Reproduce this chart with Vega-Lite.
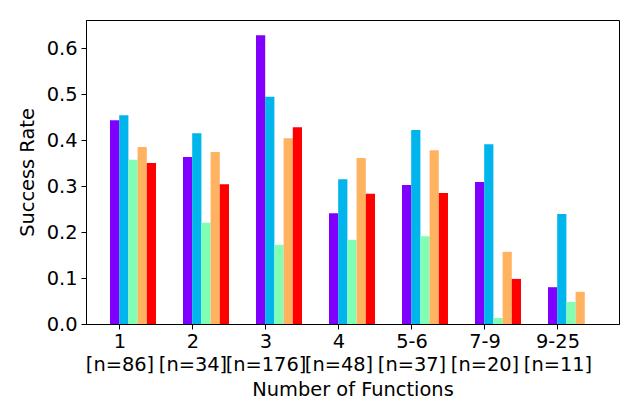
{
  "$schema": "https://vega.github.io/schema/vega-lite/v6.json",
  "autosize": "none",
  "width": 533,
  "height": 304,
  "padding": {"left": 86, "top": 20, "right": 21, "bottom": 96},
  "background": "white",
  "data": {
    "values": [
      {"functions": "1 [n=86]", "series": "S1", "rate": 0.443},
      {"functions": "1 [n=86]", "series": "S2", "rate": 0.454},
      {"functions": "1 [n=86]", "series": "S3", "rate": 0.357},
      {"functions": "1 [n=86]", "series": "S4", "rate": 0.385},
      {"functions": "1 [n=86]", "series": "S5", "rate": 0.350},
      {"functions": "2 [n=34]", "series": "S1", "rate": 0.363},
      {"functions": "2 [n=34]", "series": "S2", "rate": 0.415},
      {"functions": "2 [n=34]", "series": "S3", "rate": 0.220},
      {"functions": "2 [n=34]", "series": "S4", "rate": 0.374},
      {"functions": "2 [n=34]", "series": "S5", "rate": 0.304},
      {"functions": "3 [n=176]", "series": "S1", "rate": 0.628},
      {"functions": "3 [n=176]", "series": "S2", "rate": 0.494},
      {"functions": "3 [n=176]", "series": "S3", "rate": 0.172},
      {"functions": "3 [n=176]", "series": "S4", "rate": 0.404},
      {"functions": "3 [n=176]", "series": "S5", "rate": 0.428},
      {"functions": "4 [n=48]", "series": "S1", "rate": 0.241},
      {"functions": "4 [n=48]", "series": "S2", "rate": 0.315},
      {"functions": "4 [n=48]", "series": "S3", "rate": 0.183},
      {"functions": "4 [n=48]", "series": "S4", "rate": 0.361},
      {"functions": "4 [n=48]", "series": "S5", "rate": 0.283},
      {"functions": "5-6 [n=37]", "series": "S1", "rate": 0.302},
      {"functions": "5-6 [n=37]", "series": "S2", "rate": 0.422},
      {"functions": "5-6 [n=37]", "series": "S3", "rate": 0.191},
      {"functions": "5-6 [n=37]", "series": "S4", "rate": 0.378},
      {"functions": "5-6 [n=37]", "series": "S5", "rate": 0.285},
      {"functions": "7-9 [n=20]", "series": "S1", "rate": 0.309},
      {"functions": "7-9 [n=20]", "series": "S2", "rate": 0.391},
      {"functions": "7-9 [n=20]", "series": "S3", "rate": 0.013},
      {"functions": "7-9 [n=20]", "series": "S4", "rate": 0.157},
      {"functions": "7-9 [n=20]", "series": "S5", "rate": 0.098},
      {"functions": "9-25 [n=11]", "series": "S1", "rate": 0.080},
      {"functions": "9-25 [n=11]", "series": "S2", "rate": 0.239},
      {"functions": "9-25 [n=11]", "series": "S3", "rate": 0.048},
      {"functions": "9-25 [n=11]", "series": "S4", "rate": 0.070},
      {"functions": "9-25 [n=11]", "series": "S5", "rate": 0.0}
    ]
  },
  "mark": "bar",
  "encoding": {
    "x": {
      "field": "functions",
      "type": "nominal",
      "sort": null,
      "title": "Number of Functions",
      "scale": {"paddingInner": 0.0685, "paddingOuter": 0.185, "align": 0},
      "axis": {
        "labelAngle": 0,
        "labelExpr": "split(datum.value, ' ')",
        "labelLineHeight": 23,
        "labelPadding": 3,
        "titlePadding": 7
      }
    },
    "xOffset": {
      "field": "series",
      "type": "nominal",
      "scale": {"range": [24, 70], "paddingInner": 0, "paddingOuter": 0}
    },
    "y": {
      "field": "rate",
      "type": "quantitative",
      "title": "Success Rate",
      "scale": {"domain": [0, 0.661], "nice": false},
      "axis": {
        "values": [0, 0.1, 0.2, 0.3, 0.4, 0.5, 0.6],
        "format": ".1f",
        "grid": false,
        "titlePadding": 9
      }
    },
    "color": {
      "field": "series",
      "type": "nominal",
      "legend": null,
      "scale": {
        "domain": ["S1", "S2", "S3", "S4", "S5"],
        "range": ["#8000ff", "#00b5eb", "#80ffb4", "#ffb360", "#ff0000"]
      }
    }
  },
  "config": {
    "font": "DejaVu Sans",
    "view": {"stroke": "black", "strokeWidth": 1},
    "axis": {
      "domainColor": "black",
      "tickColor": "black",
      "tickSize": 5,
      "labelColor": "black",
      "titleColor": "black",
      "labelFontSize": 19.4,
      "titleFontSize": 19.4,
      "titleFontWeight": "normal",
      "labelPadding": 4
    }
  }
}
